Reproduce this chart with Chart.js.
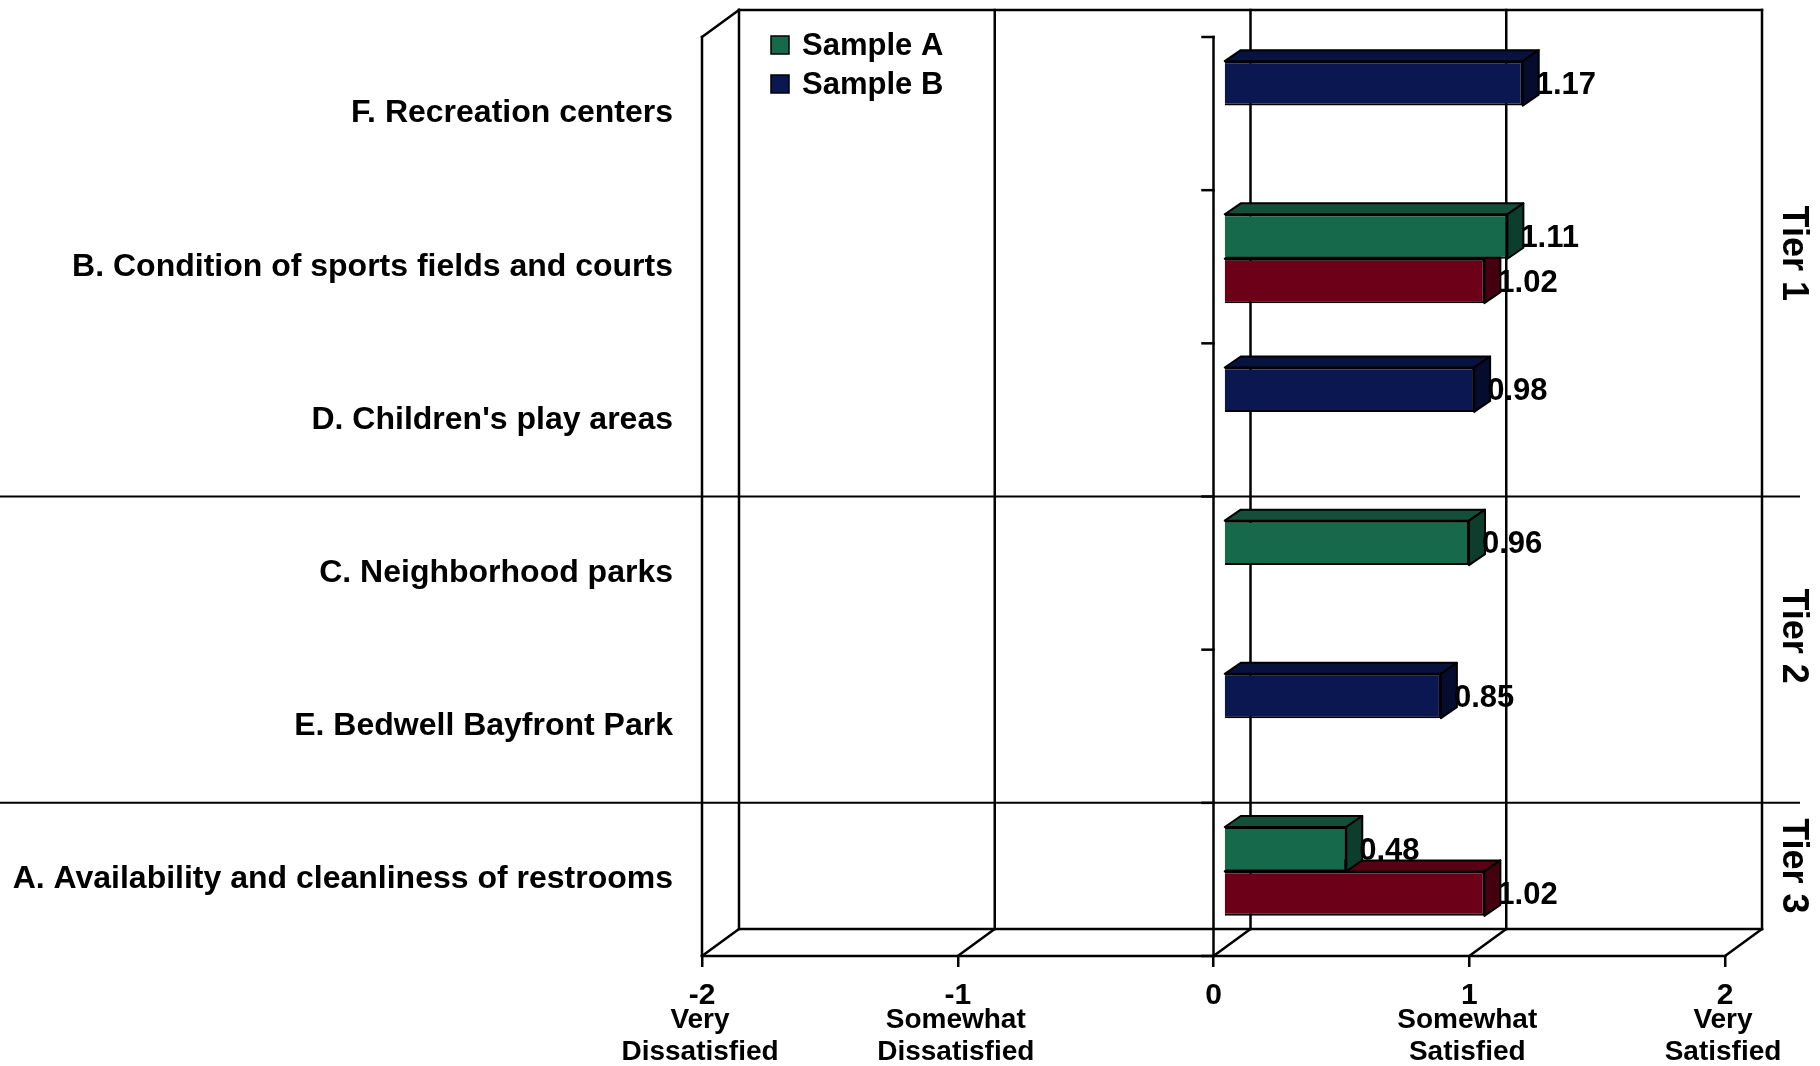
<!DOCTYPE html>
<html>
<head>
<meta charset="utf-8">
<script src="https://cdn.jsdelivr.net/npm/chart.js@4.4.1/dist/chart.umd.min.js"></script>
<style>
    html, body { margin: 0; padding: 0; background: #fff; }
    #wrap { width: 1820px; height: 1066px; }
</style>
</head>
<body>
<div id="wrap"><canvas id="satChart" width="1820" height="1066"></canvas></div>
<script>
// chart values, top to bottom
var categories = [
    "F. Recreation centers",
    "B. Condition of sports fields and courts",
    "D. Children's play areas",
    "C. Neighborhood parks",
    "E. Bedwell Bayfront Park",
    "A. Availability and cleanliness of restrooms",
];
var sampleA = [null, 1.11, null, 0.96, null, 0.48];
var sampleB = [1.17, null, 0.98, null, 0.85, null];
var otherSeries = [null, 1.02, null, null, null, 1.02];
var xTicks = [-2, -1, 0, 1, 2];
var tickNotes = [["Very", "Dissatisfied"], ["Somewhat", "Dissatisfied"], [], ["Somewhat", "Satisfied"], ["Very", "Satisfied"]];
var tierNames = ["Tier 1", "Tier 2", "Tier 3"];
var tierSizes = [3, 2, 1];

var FONT = "'Liberation Sans', Arial, sans-serif";
var DX = 37, DY = -27;   // depth of the box
var BX = 10, BY = -8;    // bars sit a bit inside the box
var BDX = 16, BDY = -11; // depth of a bar

var faceColors = {
    "#17694c": ["#134f3a", "#0d3e2d"],
    "#0a1751": ["#08123f", "#050c2e"],
    "#6c0018": ["#570013", "#45000f"],
};

function line(ctx, x1, y1, x2, y2) {
    ctx.beginPath();
    ctx.moveTo(x1, y1);
    ctx.lineTo(x2, y2);
    ctx.stroke();
}

function poly(ctx, pts, fill) {
    ctx.beginPath();
    ctx.moveTo(pts[0][0], pts[0][1]);
    for (var i = 1; i < pts.length; i++) ctx.lineTo(pts[i][0], pts[i][1]);
    ctx.closePath();
    ctx.fillStyle = fill;
    ctx.fill();
    ctx.stroke();
}

function barList(chart) {
    var bars = [];
    chart.data.datasets.forEach(function (ds, di) {
        var meta = chart.getDatasetMeta(di);
        meta.data.forEach(function (el, i) {
            if (ds.data[i] == null) return;
            var col = Array.isArray(ds.backgroundColor) ? ds.backgroundColor[i] : ds.backgroundColor;
            bars.push({ el: el, value: ds.data[i], color: col });
        });
    });
    return bars;
}

var boxPlugin = {
    id: "box3d",
    beforeDatasetsDraw: function (chart) {
        var ctx = chart.ctx, a = chart.chartArea, xs = chart.scales.x, ys = chart.scales.y;
        var left = xs.getPixelForValue(xTicks[0]);
        var right = xs.getPixelForValue(xTicks[xTicks.length - 1]);
        ctx.save();
        ctx.strokeStyle = "#000";
        ctx.lineWidth = 2.5;
        ctx.lineCap = "square";
        // back wall
        xTicks.forEach(function (v) {
            var px = xs.getPixelForValue(v) + DX;
            line(ctx, px, a.top + DY, px, a.bottom + DY);
            // floor lines
            line(ctx, px - DX, a.bottom, px, a.bottom + DY);
        });
        line(ctx, left + DX, a.top + DY, right + DX, a.top + DY);
        line(ctx, left + DX, a.bottom + DY, right + DX, a.bottom + DY);
        line(ctx, left, a.bottom, right, a.bottom);
        // left side wall
        line(ctx, left, a.top, left, a.bottom);
        line(ctx, left, a.top, left + DX, a.top + DY);
        // category axis at zero
        var zero = xs.getPixelForValue(0);
        line(ctx, zero, a.top, zero, a.bottom);
        var band = (ys.bottom - ys.top) / categories.length;
        for (var i = 0; i <= categories.length; i++) {
            var py = ys.top + band * i;
            line(ctx, zero - 11, py, zero, py);
        }
        ctx.restore();

        // top and side faces of the bars, lower bars first
        var bars = barList(chart).sort(function (p, q) { return q.el.y - p.el.y; });
        ctx.save();
        ctx.translate(BX, BY);
        ctx.strokeStyle = "#000";
        ctx.lineWidth = 2;
        ctx.lineJoin = "round";
        bars.forEach(function (b) {
            var el = b.el, x0 = el.base, x1 = el.x;
            var top = el.y - el.height / 2, bot = el.y + el.height / 2;
            var fc = faceColors[b.color];
            poly(ctx, [[x0, top], [x0 + BDX, top + BDY], [x1 + BDX, top + BDY], [x1, top]], fc[0]);
            poly(ctx, [[x1, top], [x1 + BDX, top + BDY], [x1 + BDX, bot + BDY], [x1, bot]], fc[1]);
        });
        ctx.restore();
        ctx.save();
        ctx.translate(BX, BY);
    },
    afterDatasetsDraw: function (chart) {
        var ctx = chart.ctx, a = chart.chartArea, xs = chart.scales.x, ys = chart.scales.y;
        ctx.restore();

        // value labels
        ctx.save();
        ctx.fillStyle = "#000";
        ctx.font = "bold 31px " + FONT;
        ctx.textAlign = "left";
        ctx.textBaseline = "middle";
        barList(chart).forEach(function (b) {
            ctx.fillText(b.value.toFixed(2), b.el.x + BX + 13, b.el.y + BY + 2);
        });

        // legend inside the box
        var legend = chart.data.datasets.slice(0, 2);
        legend.forEach(function (ds, i) {
            var y = 45 + i * 39;
            ctx.fillStyle = ds.backgroundColor;
            ctx.fillRect(771, y - 9, 18, 18);
            ctx.strokeStyle = "#000";
            ctx.lineWidth = 1.5;
            ctx.strokeRect(771, y - 9, 18, 18);
            ctx.fillStyle = "#000";
            ctx.fillText(ds.label, 802, y + 1);
        });

        // words under the x ticks
        ctx.font = "bold 28px " + FONT;
        ctx.textAlign = "center";
        xTicks.forEach(function (v, i) {
            var px = xs.getPixelForValue(v);
            tickNotes[i].forEach(function (t, k) {
                ctx.fillText(t, px - 2, 1020 + k * 32);
            });
        });

        // tier lines and names
        var band = (ys.bottom - ys.top) / categories.length;
        var start = 0;
        ctx.strokeStyle = "#000";
        ctx.lineWidth = 2;
        tierSizes.forEach(function (n, t) {
            var y0 = ys.top + band * start, y1 = ys.top + band * (start + n);
            if (start + n < categories.length) line(ctx, 0, y1, 1800, y1);
            ctx.save();
            ctx.translate(1793, (y0 + y1) / 2 + DY / 2);
            ctx.rotate(Math.PI / 2);
            ctx.font = "bold 36px " + FONT;
            ctx.textAlign = "center";
            ctx.textBaseline = "middle";
            ctx.fillText(tierNames[t], 0, 0);
            ctx.restore();
            start += n;
        });
        ctx.restore();
    },
};

var ctx_sat = document.getElementById("satChart");
var satChart = new Chart(ctx_sat, {
    type: "bar",
    data: {
        labels: categories,
        datasets: [
            {
                label: "Sample A",
                data: sampleA,
                backgroundColor: "#17694c",
                stack: "front",
            },
            {
                label: "Sample B",
                data: sampleB,
                backgroundColor: "#0a1751",
                stack: "front",
            },
            {
                label: "",
                data: otherSeries,
                backgroundColor: "#6c0018",
                stack: "back",
            },
        ],
    },
    options: {
        indexAxis: "y",
        responsive: false,
        animation: false,
        devicePixelRatio: 1,
        datasets: {
            bar: {
                borderColor: "#000",
                borderWidth: 2,
                categoryPercentage: 0.58,
                barPercentage: 1.0,
            },
        },
        layout: { padding: { top: 37, right: 95, left: 0, bottom: 0 } },
        plugins: {
            legend: { display: false },
            tooltip: { enabled: false },
        },
        scales: {
            x: {
                min: -2,
                max: 2,
                afterBuildTicks: function (scale) {
                    scale.ticks = xTicks.map(function (v) { return { value: v }; });
                },
                afterFit: function (scale) {
                    scale.height = 110;
                    scale.paddingLeft = 0;
                    scale.paddingRight = 0;
                },
                grid: {
                    drawOnChartArea: false,
                    drawTicks: true,
                    tickLength: 11,
                    color: "#000",
                    lineWidth: 2.5,
                },
                border: { display: false },
                ticks: {
                    color: "#000",
                    padding: 11,
                    font: { family: FONT, size: 30, weight: "bold" },
                },
            },
            y: {
                afterFit: function (scale) {
                    scale.width = 702;
                    scale.paddingTop = 0;
                    scale.paddingBottom = 0;
                },
                grid: { display: false, drawTicks: false },
                border: { display: false },
                ticks: {
                    color: "#000",
                    padding: 29,
                    font: { family: FONT, size: 32, weight: "bold" },
                },
            },
        },
    },
    plugins: [boxPlugin],
});
</script>
</body>
</html>
